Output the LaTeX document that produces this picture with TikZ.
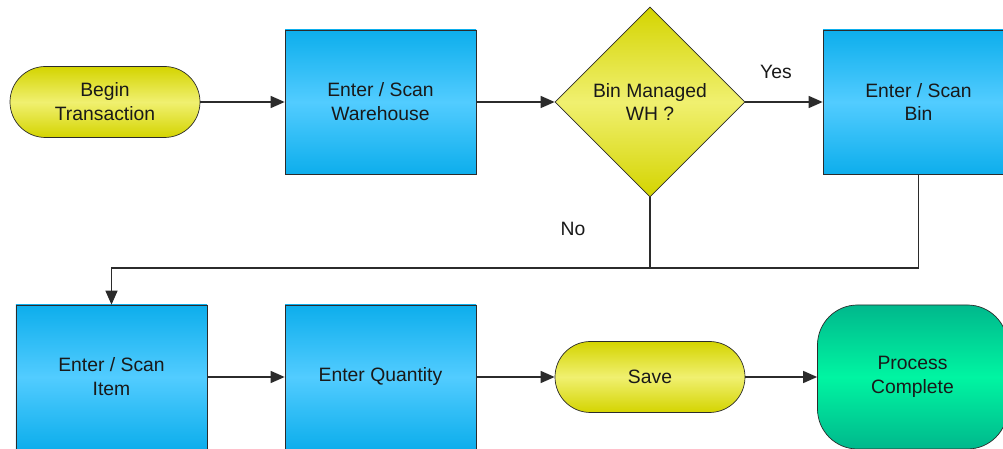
\documentclass[tikz,border=0pt]{standalone}
\usepackage{fontspec}
\setmainfont{Liberation Sans}
\usetikzlibrary{shapes.geometric,arrows.meta}

\definecolor{blueedge}{HTML}{0DAEEC}
\definecolor{bluemid}{HTML}{52CCFF}
\definecolor{yellowedge}{HTML}{D4D400}
\definecolor{yellowmid}{HTML}{F0F070}
\definecolor{greenedge}{HTML}{00B88C}
\definecolor{greenmid}{HTML}{00F5A2}
\definecolor{lineclr}{HTML}{2B2B2B}

\tikzset{
    every node/.style={font=\fontsize{11}{13.6}\selectfont, align=center, text=black!90},
    stepbox/.style={rectangle, draw=lineclr, minimum width=3.82cm, minimum height=2.88cm,
        top color=blueedge, bottom color=blueedge, middle color=bluemid},
    terminal/.style={rectangle, rounded corners=0.71cm, draw=lineclr, minimum width=3.8cm,
        minimum height=1.42cm, top color=yellowedge, bottom color=yellowedge, middle color=yellowmid},
    decision/.style={diamond, draw=lineclr, minimum width=3.8cm, minimum height=3.8cm, inner sep=0pt,
        top color=yellowedge, bottom color=yellowedge, middle color=yellowmid},
    finish/.style={rectangle, rounded corners=0.8cm, draw=lineclr, minimum width=3.8cm,
        minimum height=2.88cm, top color=greenedge, bottom color=greenedge, middle color=greenmid},
    flow/.style={-{Triangle[length=2.8mm,width=2.4mm]}, draw=lineclr, thick},
}

\begin{document}
\begin{tikzpicture}
    \useasboundingbox (0,0) rectangle (20.06,8.98);
    \clip (0,0) rectangle (20.06,8.98);

    % top row
    \node [terminal] (begin) at (2.1,6.94) {Begin\\Transaction};
    \node [stepbox] (whse) at (7.61,6.94) {Enter / Scan\\Warehouse};
    \node [decision] (binwh) at (13.0,6.94) {Bin Managed\\WH ?};
    \node [stepbox] (bin) at (18.37,6.94) {Enter / Scan\\Bin};

    % bottom row
    \node [stepbox] (item) at (2.23,1.44) {Enter / Scan\\Item};
    \node [stepbox] (qty) at (7.61,1.44) {Enter Quantity};
    \node [terminal] (save) at (13.0,1.44) {Save};
    \node [finish] (done) at (18.25,1.44) {Process\\Complete};

    % joint of the two branches
    \coordinate (join) at (13.0,3.62);

    \draw [flow] (begin) -- (whse);
    \draw [flow] (whse) -- (binwh);
    \draw [flow] (binwh) -- (bin);
    \draw [lineclr, thick] (binwh.south) -- (join);
    \draw [lineclr, thick] (bin.south) |- (join);
    \draw [flow] (join) -| (item.north);
    \draw [flow] (item) -- (qty);
    \draw [flow] (qty) -- (save);
    \draw [flow] (save) -- (done);

    \node (yes) at (15.52,7.54) {Yes};
    \node (no) at (11.46,4.4) {No};
\end{tikzpicture}
\end{document}
